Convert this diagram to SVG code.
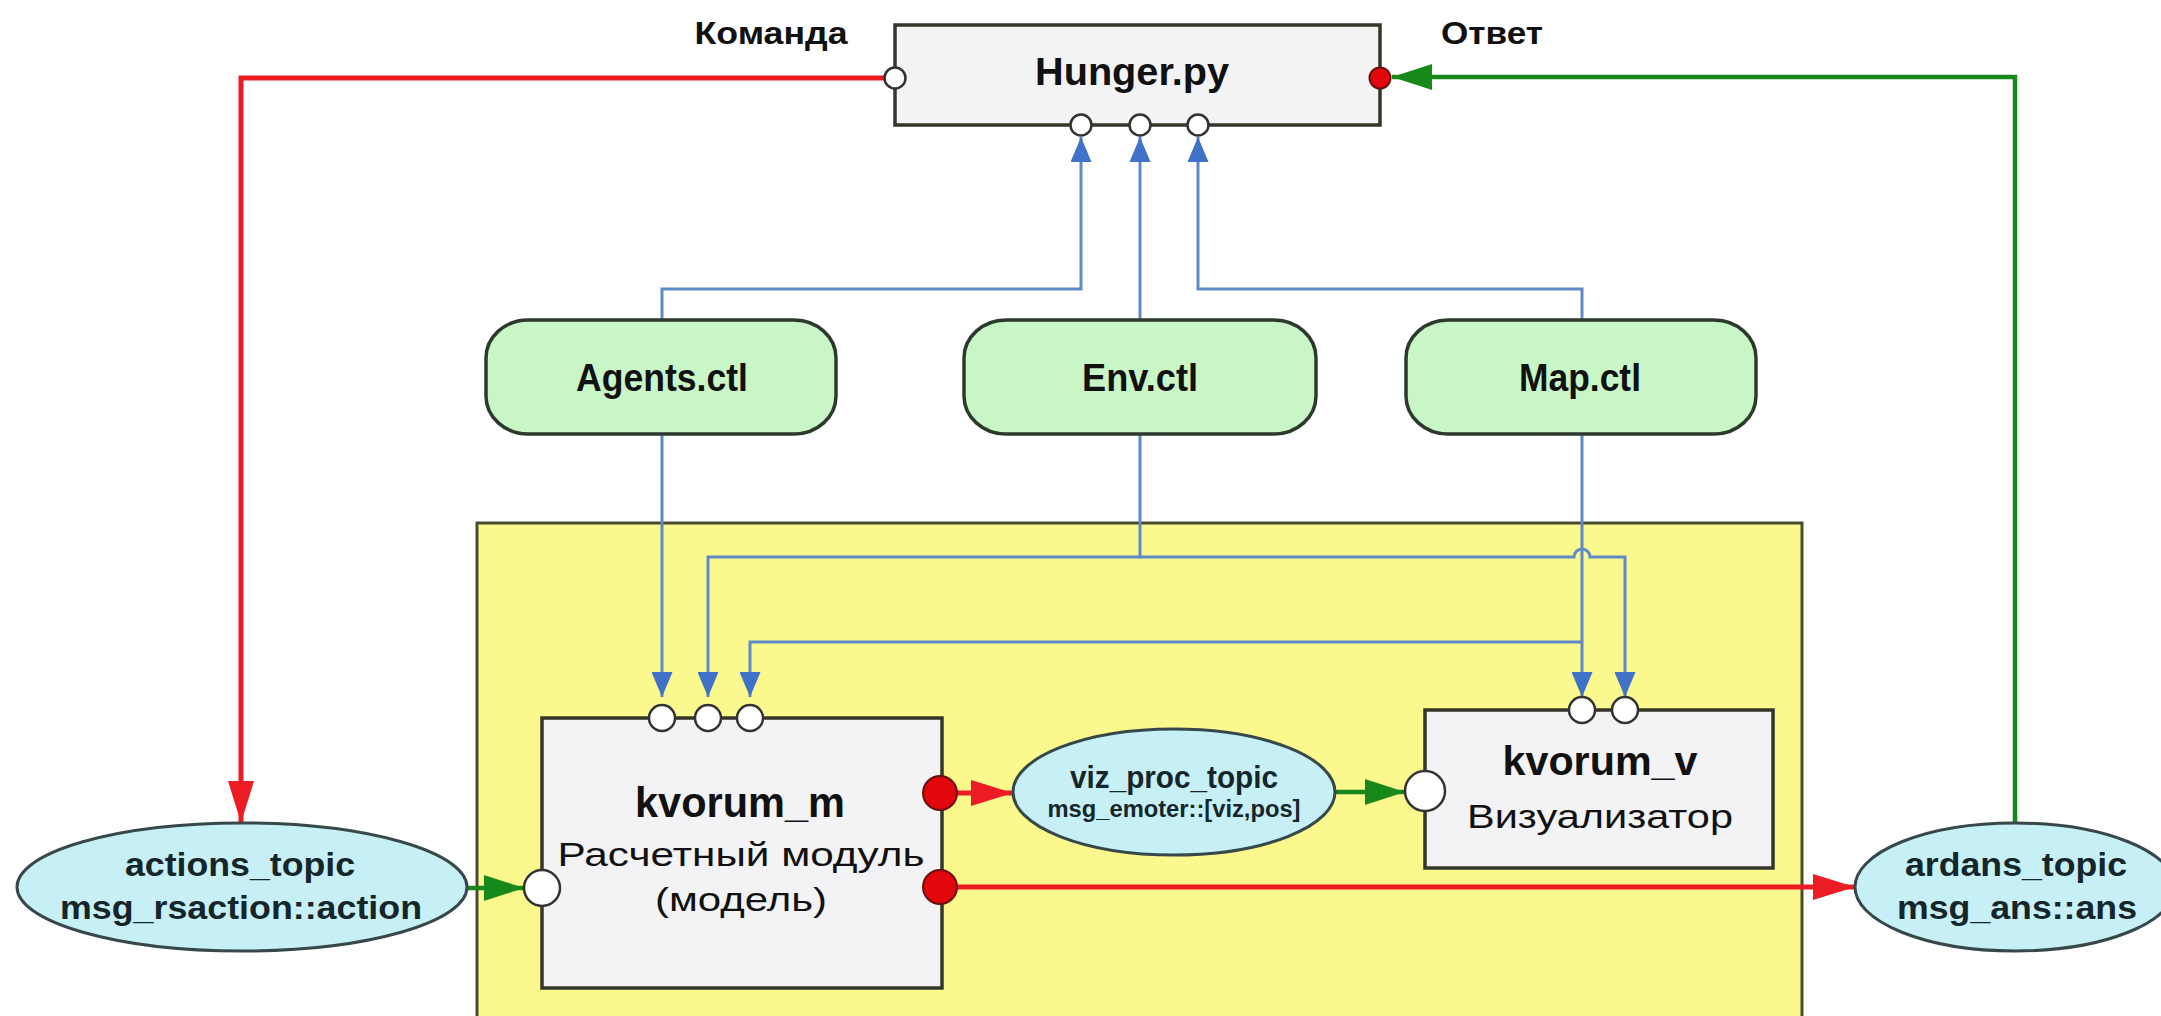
<svg xmlns="http://www.w3.org/2000/svg" width="2161" height="1016" viewBox="0 0 2161 1016">
<style>
text{font-family:"Liberation Sans",Arial,sans-serif;fill:#111;text-anchor:middle}
.b{font-weight:bold}
.tt{fill:#15262a}
.box{fill:#f3f3f5;stroke:#35352a;stroke-width:3.5}
.ctl{fill:#c8f6c6;stroke:#2c3a2c;stroke-width:3.5}
.topic{fill:#c6eff6;stroke:#36484a;stroke-width:3}
.pw{fill:#fff;stroke:#333;stroke-width:2.5}
.pr{fill:#e3060c;stroke:#6a1010;stroke-width:2}
.red{fill:none;stroke:#ec1c24;stroke-width:5}
.grn{fill:none;stroke:#17891b;stroke-width:4.5}
.blu{fill:none;stroke:#6089c8;stroke-width:3}
</style>
<defs>
<marker id="ar" markerUnits="userSpaceOnUse" markerWidth="42" markerHeight="26" refX="42" refY="13" orient="auto"><path d="M0,0 L42,13 L0,26 z" fill="#ec1c24"/></marker>
<marker id="ag" markerUnits="userSpaceOnUse" markerWidth="40" markerHeight="26" refX="40" refY="13" orient="auto"><path d="M0,0 L40,13 L0,26 z" fill="#17891b"/></marker>
<marker id="ab" markerUnits="userSpaceOnUse" markerWidth="25" markerHeight="21" refX="25" refY="10.5" orient="auto"><path d="M0,0 L25,10.5 L0,21 z" fill="#3f72c8"/></marker>
</defs>
<rect width="2161" height="1016" fill="#fff"/>
<g id="container"><rect x="477" y="523" width="1325" height="510" fill="#fbf98e" stroke="#4a4a30" stroke-width="3"/></g>
<g id="labels">
<text class="b" x="771" y="44" font-size="32" textLength="153" lengthAdjust="spacingAndGlyphs">Команда</text>
<text class="b" x="1492" y="44" font-size="32" textLength="102" lengthAdjust="spacingAndGlyphs">Ответ</text>
</g>
<g id="connectors">
<path class="red" d="M884,78 H241 V823" marker-end="url(#ar)"/>
<path class="grn" d="M2015,823 V77 H1392" marker-end="url(#ag)"/>
<path class="blu" d="M662,321 V289 H1081 V137" marker-end="url(#ab)"/>
<path class="blu" d="M1140,321 V137" marker-end="url(#ab)"/>
<path class="blu" d="M1582,321 V289 H1198 V137" marker-end="url(#ab)"/>
<path class="blu" d="M662,434 V697" marker-end="url(#ab)"/>
<path class="blu" d="M1140,434 V557 H708 V697" marker-end="url(#ab)"/>
<path class="blu" d="M1140,557 H1574 A8,8 0 0 1 1590,557 H1625 V697" marker-end="url(#ab)"/>
<path class="blu" d="M1582,434 V697" marker-end="url(#ab)"/>
<path class="blu" d="M1582,642 H750 V697" marker-end="url(#ab)"/>
<path class="grn" d="M467,888 H524" marker-end="url(#ag)"/>
<path class="red" d="M957,793 H1013" marker-end="url(#ar)"/>
<path class="grn" d="M1335,792 H1405" marker-end="url(#ag)"/>
<path class="red" d="M957,887 H1855" marker-end="url(#ar)"/>
</g>
<g id="hunger">
<rect class="box" x="895" y="25" width="485" height="100"/>
<text class="b" x="1132" y="85" font-size="38" textLength="194" lengthAdjust="spacingAndGlyphs">Hunger.py</text>
<circle class="pw" cx="895" cy="78" r="10.5"/>
<circle class="pr" cx="1380" cy="78" r="10.5"/>
<circle class="pw" cx="1081" cy="125" r="10.5"/>
<circle class="pw" cx="1140" cy="125" r="10.5"/>
<circle class="pw" cx="1198" cy="125" r="10.5"/>
</g>
<g id="agents_ctl">
<rect class="ctl" x="486" y="320" width="350" height="114" rx="42" ry="38"/>
<text class="b" x="662" y="391" font-size="39" textLength="172" lengthAdjust="spacingAndGlyphs">Agents.ctl</text>
</g>
<g id="env_ctl">
<rect class="ctl" x="964" y="320" width="352" height="114" rx="42" ry="38"/>
<text class="b" x="1140" y="391" font-size="39" textLength="116" lengthAdjust="spacingAndGlyphs">Env.ctl</text>
</g>
<g id="map_ctl">
<rect class="ctl" x="1406" y="320" width="350" height="114" rx="42" ry="38"/>
<text class="b" x="1580" y="391" font-size="39" textLength="122" lengthAdjust="spacingAndGlyphs">Map.ctl</text>
</g>
<g id="kvorum_m">
<rect class="box" x="542" y="718" width="400" height="270"/>
<text class="b" x="740" y="817" font-size="42" textLength="210" lengthAdjust="spacingAndGlyphs">kvorum_m</text>
<text x="741" y="866" font-size="34" textLength="367" lengthAdjust="spacingAndGlyphs">Расчетный модуль</text>
<text x="741" y="911" font-size="34" textLength="172" lengthAdjust="spacingAndGlyphs">(модель)</text>
<circle class="pw" cx="662" cy="718" r="13"/>
<circle class="pw" cx="708" cy="718" r="13"/>
<circle class="pw" cx="750" cy="718" r="13"/>
<circle class="pw" cx="542" cy="888" r="18"/>
<circle class="pr" cx="940" cy="793" r="17"/>
<circle class="pr" cx="940" cy="887" r="17"/>
</g>
<g id="viz_proc_topic">
<ellipse class="topic" cx="1174" cy="792" rx="161" ry="63"/>
<text class="b tt" x="1174" y="788" font-size="31" textLength="208" lengthAdjust="spacingAndGlyphs">viz_proc_topic</text>
<text class="b tt" x="1174" y="817" font-size="23" textLength="253" lengthAdjust="spacingAndGlyphs">msg_emoter::[viz,pos]</text>
</g>
<g id="kvorum_v">
<rect class="box" x="1425" y="710" width="348" height="158"/>
<text class="b" x="1600" y="775" font-size="41" textLength="195" lengthAdjust="spacingAndGlyphs">kvorum_v</text>
<text x="1600" y="828" font-size="34" textLength="266" lengthAdjust="spacingAndGlyphs">Визуализатор</text>
<circle class="pw" cx="1582" cy="710" r="13"/>
<circle class="pw" cx="1625" cy="710" r="13"/>
<circle class="pw" cx="1425" cy="791" r="20"/>
</g>
<g id="actions_topic">
<ellipse class="topic" cx="242" cy="887" rx="225" ry="64"/>
<text class="b tt" x="240" y="876" font-size="34" textLength="230" lengthAdjust="spacingAndGlyphs">actions_topic</text>
<text class="b tt" x="241" y="919" font-size="34" textLength="362" lengthAdjust="spacingAndGlyphs">msg_rsaction::action</text>
</g>
<g id="ardans_topic">
<ellipse class="topic" cx="2015" cy="887" rx="160" ry="64"/>
<text class="b tt" x="2016" y="876" font-size="34" textLength="222" lengthAdjust="spacingAndGlyphs">ardans_topic</text>
<text class="b tt" x="2017" y="919" font-size="34" textLength="240" lengthAdjust="spacingAndGlyphs">msg_ans::ans</text>
</g>
</svg>
